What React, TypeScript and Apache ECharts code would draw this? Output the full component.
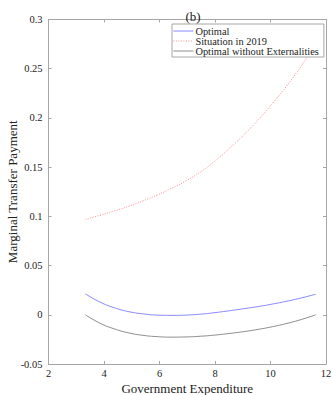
import React, { useEffect, useRef } from "react";
import * as echarts from "echarts";

const xValues = [3.33, 3.85, 4.37, 4.89, 5.41, 5.92, 6.44, 6.96, 7.48, 8.0, 8.52, 9.04, 9.56, 10.07, 10.59, 11.11, 11.63];
const optimal = [0.0213, 0.013, 0.0072, 0.0032, 0.0009, -0.0003, -0.0006, -0.0003, 0.0006, 0.0022, 0.0041, 0.0062, 0.0084, 0.0109, 0.0138, 0.0171, 0.0209];
const situation2019 = [0.097, 0.101, 0.1054, 0.1102, 0.1157, 0.1217, 0.1285, 0.1361, 0.1451, 0.1562, 0.169, 0.1828, 0.1981, 0.2146, 0.2328, 0.2528, 0.275];
const optimalNoExt = [0.0, -0.0085, -0.0143, -0.0184, -0.0209, -0.0222, -0.0227, -0.0225, -0.0218, -0.0206, -0.019, -0.0171, -0.0148, -0.0121, -0.0088, -0.0048, 0.0];

const xTicks = [2, 4, 6, 8, 10, 12];
const yTicks = [-0.05, 0, 0.05, 0.1, 0.15, 0.2, 0.25, 0.3];

const seriesNames = ["Optimal", "Situation in 2019", "Optimal without Externalities"];

const FONT = "Liberation Serif, Times New Roman, serif";

export default function App() {
  const ref = useRef<HTMLDivElement>(null);
  useEffect(() => {
    document.body.style.margin = "0";
    const chart = echarts.init(ref.current!, null, { renderer: "svg" });
    const axisLine = { show: true, onZero: false, lineStyle: { color: "#a6a6a6", width: 1 } };
    const tick = { show: true, inside: true, length: 3, lineStyle: { color: "#a6a6a6", width: 1 } };
    const xMin = xTicks[0];
    const xMax = xTicks[xTicks.length - 1];
    const yMin = yTicks[0];
    const yMax = yTicks[yTicks.length - 1];
    const pair = (ys: number[]) => xValues.map((x, i) => [x, ys[i]]);
    chart.setOption({
      animation: false,
      backgroundColor: "#ffffff",
      textStyle: { fontFamily: FONT },
      title: {
        text: "(b)",
        left: 188,
        top: 5,
        textAlign: "center",
        textStyle: { fontFamily: FONT, fontSize: 13, fontWeight: "normal", color: "#222" },
      },
      grid: {
        left: 48.5,
        top: 19.5,
        width: 277.5,
        height: 344.5,
        containLabel: false,
        outerBoundsMode: "none",
      },
      legend: {
        data: seriesNames,
        orient: "vertical",
        left: 172,
        top: 24,
        padding: [2, 5, 1, 1],
        itemGap: 0,
        itemWidth: 20,
        itemHeight: 12,
        backgroundColor: "#ffffff",
        borderColor: "#a6a6a6",
        borderWidth: 1,
        borderRadius: 0,
        itemStyle: { opacity: 0 },
        lineStyle: { width: 0.8 },
        textStyle: { fontFamily: FONT, fontSize: 10.4, color: "#222", padding: [0, 0, 0, -3] },
      },
      xAxis: [
        {
          type: "value",
          min: xMin,
          max: xMax,
          interval: 2,
          axisLine,
          axisTick: tick,
          splitLine: { show: false },
          axisLabel: { fontFamily: FONT, fontSize: 10.5, color: "#222", margin: 4 },
          name: "Government Expenditure",
          nameLocation: "middle",
          nameGap: 18,
          nameMoveOverlap: false,
          nameTextStyle: { fontFamily: FONT, fontSize: 13, color: "#222" },
        },
        {
          type: "value",
          position: "top",
          min: xMin,
          max: xMax,
          interval: 2,
          axisLine,
          axisTick: tick,
          splitLine: { show: false },
          axisLabel: { show: false },
        },
      ],
      yAxis: [
        {
          type: "value",
          min: yMin,
          max: yMax,
          interval: 0.05,
          axisLine,
          axisTick: tick,
          splitLine: { show: false },
          axisLabel: {
            fontFamily: FONT,
            fontSize: 10.5,
            color: "#222",
            margin: 6,
            formatter: (v: number) => String(parseFloat(v.toFixed(2))),
          },
          name: "Marginal Transfer Payment",
          nameLocation: "middle",
          nameGap: 30,
          nameMoveOverlap: false,
          nameTextStyle: { fontFamily: FONT, fontSize: 13, color: "#222" },
        },
        {
          type: "value",
          position: "right",
          min: yMin,
          max: yMax,
          interval: 0.05,
          axisLine,
          axisTick: tick,
          splitLine: { show: false },
          axisLabel: { show: false },
        },
      ],
      series: [
        {
          name: seriesNames[0],
          type: "line",
          data: pair(optimal),
          smooth: true,
          symbol: "none",
          color: "#6a6aff",
          lineStyle: { color: "#6a6aff", width: 0.8 },
        },
        {
          name: seriesNames[1],
          type: "line",
          data: pair(situation2019),
          smooth: true,
          symbol: "none",
          color: "#ff7070",
          lineStyle: { color: "#ff7070", width: 0.8, type: [1, 1.5] },
          z: 1,
        },
        {
          name: seriesNames[2],
          type: "line",
          data: pair(optimalNoExt),
          smooth: true,
          symbol: "none",
          color: "#6e6e6e",
          lineStyle: { color: "#6e6e6e", width: 0.8 },
        },
      ],
    });
    return () => chart.dispose();
  }, []);
  return <div ref={ref} style={{ width: 332, height: 395 }} />;
}
